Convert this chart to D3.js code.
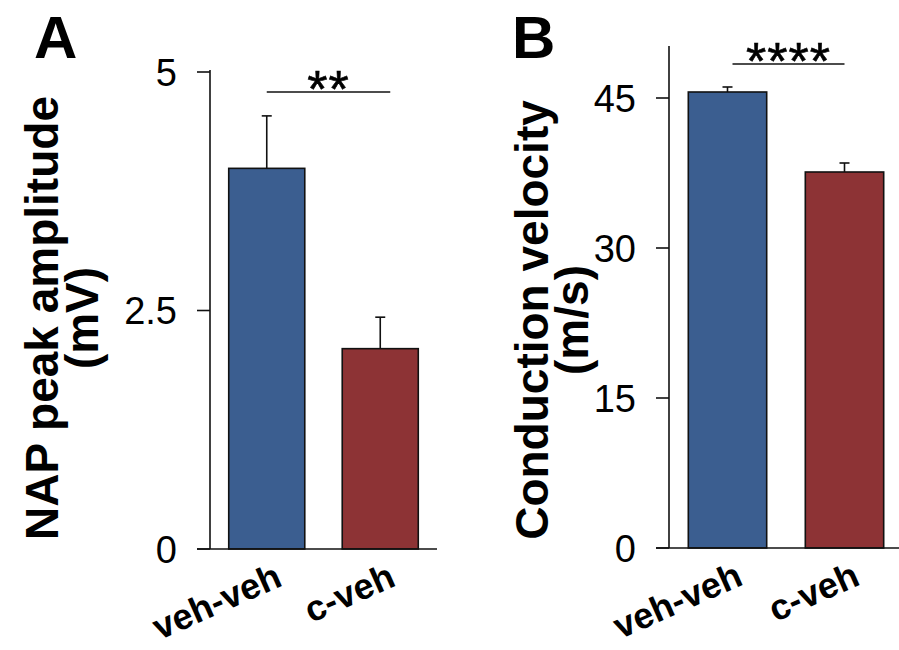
<!DOCTYPE html>
<html><head><meta charset="utf-8">
<script src="https://cdn.jsdelivr.net/npm/d3@7"></script>
<style>body{margin:0;background:#fff}svg{display:block}text{font-family:"Liberation Sans",Arial,sans-serif}</style>
</head><body><svg id="c" width="899" height="650"></svg>
<script>
const categories = ["veh-veh", "c-veh"];
const ampValues = [3.99, 2.10];
const ampErrors = [0.55, 0.33];
const ampTicks = [0, 2.5, 5];
const ampTickLabels = ["0", "2.5", "5"];
const cvValues = [45.6, 37.6];
const cvErrors = [0.5, 0.9];
const cvTicks = [0, 15, 30, 45];
const cvTickLabels = ["0", "15", "30", "45"];
const barColors = ["#3b5e90", "#8d3335"];

const svg = d3.select("#c");

function panel(o) {
  const g = svg.append("g");
  const x = d3.scaleBand().domain(categories).range(o.xr).paddingInner(0.33).paddingOuter(0.165);
  const y = d3.scaleLinear().domain(o.domain).range(o.yr);
  g.selectAll("rect.bar").data(categories).enter().append("rect")
    .attr("x", d => x(d)).attr("width", x.bandwidth())
    .attr("y", (d, i) => y(o.values[i])).attr("height", (d, i) => y(0) - y(o.values[i]))
    .attr("fill", (d, i) => barColors[i]).attr("stroke", "#111").attr("stroke-width", 1.6);
  categories.forEach((d, i) => {
    const cx = x(d) + x.bandwidth() / 2;
    const top = y(o.values[i] + o.errors[i]);
    g.append("line").attr("x1", cx).attr("x2", cx).attr("y1", y(o.values[i])).attr("y2", top)
      .attr("stroke", "#111").attr("stroke-width", 1.6);
    g.append("line").attr("x1", cx - 5).attr("x2", cx + 5).attr("y1", top).attr("y2", top)
      .attr("stroke", "#111").attr("stroke-width", 1.6);
  });
  const x0 = o.xr[0];
  g.append("line").attr("x1", x0).attr("x2", x0).attr("y1", y(o.domain[1]) - 2).attr("y2", y(0))
    .attr("stroke", "#111").attr("stroke-width", 1.6);
  g.append("line").attr("x1", x0 - 13).attr("x2", o.baseEnd).attr("y1", y(0)).attr("y2", y(0))
    .attr("stroke", "#111").attr("stroke-width", 1.6);
  o.ticks.forEach((t, i) => {
    g.append("line").attr("x1", x0 - 13).attr("x2", x0).attr("y1", y(t)).attr("y2", y(t))
      .attr("stroke", "#111").attr("stroke-width", 1.6);
    g.append("text").attr("x", x0 - 33).attr("y", y(t)).attr("dy", "0.36em")
      .attr("text-anchor", "end").attr("font-size", 38).attr("fill", "#000").text(o.tickLabels[i]);
  });
  categories.forEach(d => {
    const cx = x(d) + x.bandwidth() / 2;
    g.append("text").attr("transform", `translate(${cx + 17},${y(0) + 36}) rotate(-24)`)
      .attr("text-anchor", "end").attr("font-size", 36).attr("font-weight", "bold").text(d);
  });
  const t = g.append("text").attr("transform", `translate(${o.titleX},${o.titleY}) rotate(-90)`)
    .attr("text-anchor", "middle").attr("font-size", 46).attr("font-weight", "bold");
  t.append("tspan").attr("x", 0).attr("dy", 0).text(o.title[0]);
  t.append("tspan").attr("x", 0).attr("dy", 40).text(o.title[1]);
  const sx1 = x(categories[0]) + x.bandwidth() / 2 + o.sigOff[0];
  const sx2 = x(categories[1]) + x.bandwidth() / 2 + o.sigOff[1];
  g.append("line").attr("x1", sx1).attr("x2", sx2).attr("y1", y(o.sigY)).attr("y2", y(o.sigY))
    .attr("stroke", "#111").attr("stroke-width", 1.6);
  g.append("text").attr("x", (sx1 + sx2) / 2).attr("y", y(o.sigY) + 15)
    .attr("text-anchor", "middle").attr("font-size", 52).attr("letter-spacing", 1)
    .attr("stroke", "#000").attr("stroke-width", 0.6).text(o.stars);
  g.append("text").attr("x", o.letterX).attr("y", 58).attr("font-size", 60).attr("font-weight", "bold").text(o.letter);
}

panel({xr: [210, 437], baseEnd: 437, domain: [0, 5], yr: [549, 72], values: ampValues, errors: ampErrors,
  ticks: ampTicks, tickLabels: ampTickLabels, title: ["NAP peak amplitude", "(mV)"], titleX: 58, titleY: 318,
  sigY: 4.79, sigOff: [0, 10], stars: "**", letter: "A", letterX: 34});
panel({xr: [669, 903], baseEnd: 899, domain: [0, 50], yr: [548, 48], values: cvValues, errors: cvErrors,
  ticks: cvTicks, tickLabels: cvTickLabels, title: ["Conduction velocity", "(m/s)"], titleX: 548, titleY: 320,
  sigY: 48.4, sigOff: [5, 0], stars: "****", letter: "B", letterX: 512});
</script></body></html>
